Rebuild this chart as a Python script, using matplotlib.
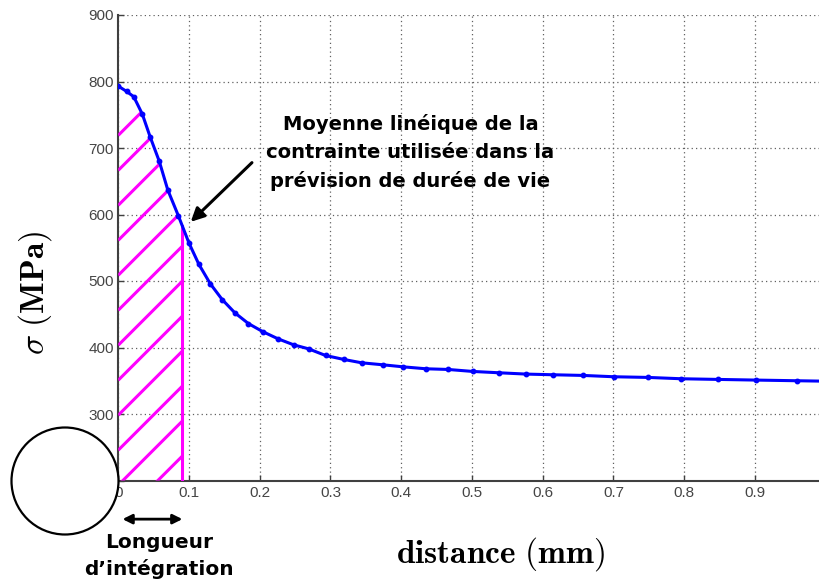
import numpy as np
import matplotlib.pyplot as plt
from matplotlib.patches import Polygon, Circle

plt.rcParams['mathtext.fontset'] = 'cm'

# stress profile below the notch (mesh nodes)
distance = [0, 0.012, 0.022, 0.034, 0.045, 0.058, 0.070, 0.085, 0.100, 0.114,
            0.130, 0.147, 0.165, 0.184, 0.204, 0.226, 0.248, 0.269, 0.293, 0.319,
            0.344, 0.374, 0.402, 0.435, 0.466, 0.501, 0.538, 0.577, 0.615, 0.657,
            0.701, 0.749, 0.796, 0.848, 0.902, 0.960, 1.020]
stress = [793, 785, 777, 751, 717, 680, 637, 598, 557, 525,
          496, 472, 452, 436, 424, 413, 404, 398, 388, 382,
          377, 374, 371, 368, 367, 364, 362, 360, 359, 358,
          356, 355, 353, 352, 351, 350, 349]

integration_length = 0.0907  # mm
x_ticks = [0, 0.1, 0.2, 0.3, 0.4, 0.5, 0.6, 0.7, 0.8, 0.9]
x_labels = ['0', '0.1', '0.2', '0.3', '0.4', '0.5', '0.6', '0.7', '0.8', '0.9']
y_ticks = [200, 300, 400, 500, 600, 700, 800, 900]

W, H = 820, 583
fig = plt.figure(figsize=(W / 100, H / 100), dpi=100)
ax_l, ax_b, ax_w, ax_h = 118.25, 102.5, 701.75, 465.5  # pixels
ax = fig.add_axes([ax_l / W, ax_b / H, ax_w / W, ax_h / H])

xmax = 0.992
ax.set_xlim(0, xmax)
ax.set_ylim(200, 900)

# curve
ax.plot(distance, stress, color='#0000ff', lw=2.2, marker='o', ms=3.2, zorder=4)

# hatched integration zone, lines at 45 degrees on screen
y_end = np.interp(integration_length, distance, stress)
xs = [d for d in distance if d < integration_length]
ys = stress[:len(xs)]
poly = [(0, 200)] + list(zip(xs, ys)) + [(integration_length, y_end), (integration_length, 200)]
clip = Polygon(poly, closed=True, transform=ax.transData)
slope = (ax_w / xmax) / (ax_h / 700.0)
for y0 in np.arange(193 - 5 * 52.6, 740, 52.6):
    ln, = ax.plot([0, integration_length], [y0, y0 + slope * integration_length],
                  color='#ff00ff', lw=2.2, solid_capstyle='butt', zorder=3)
    ln.set_clip_path(clip)
ax.plot([integration_length, integration_length], [200, y_end], color='#ff00ff', lw=2.2, zorder=3)

# axes styling
ax.set_xticks(x_ticks)
ax.set_xticklabels(x_labels)
ax.set_yticks(y_ticks)
for sp in ['top', 'right']:
    ax.spines[sp].set_visible(False)
for sp in ['left', 'bottom']:
    ax.spines[sp].set_color('#404040')
    ax.spines[sp].set_linewidth(1.5)
ax.tick_params(direction='in', length=4, width=1, color='#404040',
               labelcolor='#454545', labelsize=11)
ax.tick_params(axis='x', pad=4)
ax.tick_params(axis='y', pad=3)
for lab in ax.get_xticklabels() + ax.get_yticklabels():
    lab.set_family('Liberation Sans')
ax.grid(True, color='#606060', lw=0.9, linestyle=(0, (1, 2.5)))

# annotation
ax.annotate('', xy=(0.1025, 589), xytext=(0.189, 678),
            arrowprops=dict(arrowstyle='-|>', color='k', lw=2.2, mutation_scale=20,
                            shrinkA=0, shrinkB=0))
ax.text(0.413, 693, 'Moyenne linéique de la\ncontrainte utilisée dans la\nprévision de durée de vie',
        ha='center', va='center', fontsize=14, fontweight='bold', linespacing=1.58)

# integration length marker under the axis
ax.annotate('', xy=(integration_length, -0.083), xytext=(0.006, -0.083),
            xycoords=ax.get_xaxis_transform(), textcoords=ax.get_xaxis_transform(),
            arrowprops=dict(arrowstyle='<|-|>', color='k', lw=2, mutation_scale=14,
                            shrinkA=0, shrinkB=0), annotation_clip=False)
ax.text(0.058, -0.163, 'Longueur\nd’intégration', transform=ax.get_xaxis_transform(),
        ha='center', va='center', fontsize=14.5, fontweight='bold', linespacing=1.45)

# notch sketch
circ = Circle((65 / 100, (H - 481) / 100), 0.535, transform=fig.dpi_scale_trans,
              facecolor='white', edgecolor='k', lw=1.6, zorder=5)
fig.add_artist(circ)

fig.text(500 / W, 1 - 554 / H, r'$\mathbf{distance\ (mm)}$', fontsize=24,
         ha='center', va='center')
fig.text(35 / W, 1 - 293 / H, r'$\sigma\ \mathbf{(MPa)}$', fontsize=24,
         rotation=90, ha='center', va='center')

fig.savefig('out.png', dpi=100)
